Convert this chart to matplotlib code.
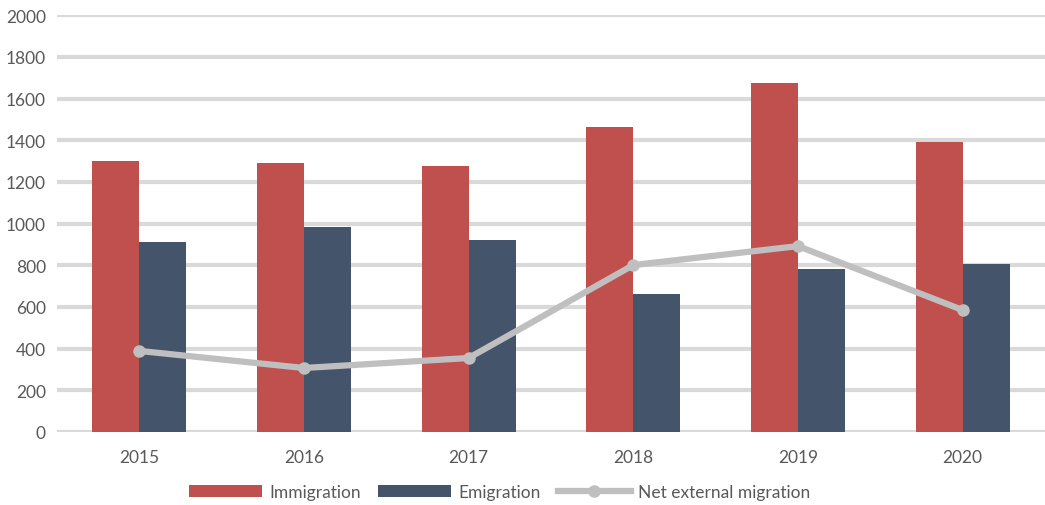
import numpy as np
import matplotlib
matplotlib.use("Agg")
import matplotlib.pyplot as plt

years = ["2015", "2016", "2017", "2018", "2019", "2020"]
immigration = [1300, 1290, 1276, 1463, 1674, 1391]
emigration = [911, 983, 921, 662, 782, 806]
net_migration = [389, 307, 355, 801, 892, 585]


def main():
    plt.rcParams["font.family"] = ["Lato", "DejaVu Sans"]
    fig = plt.figure(figsize=(10.45, 5.06), dpi=100)
    ax = fig.add_axes([0.0545, 0.1443, 0.9455, 0.8237])

    x = np.arange(len(years))
    w = 0.285
    b1 = ax.bar(x - w / 2, immigration, w, color="#c0504d", label="Immigration", zorder=2)
    b2 = ax.bar(x + w / 2, emigration, w, color="#44546a", label="Emigration", zorder=2)
    ln, = ax.plot(x, net_migration, color="#bfbfbf", lw=4.5, marker="o", ms=8,
                  label="Net external migration", zorder=3)

    ax.set_xlim(-0.5, len(years) - 0.5)
    ax.set_ylim(0, 2000)
    ax.set_yticks(range(0, 2001, 200))
    ax.set_xticks(x)
    ax.set_xticklabels(years)
    ax.grid(axis="y", color="#d9d9d9", lw=3, zorder=0)
    ax.set_axisbelow(True)
    for s in ax.spines.values():
        s.set_visible(False)
    ax.tick_params(length=0, labelsize=12.5, colors="#595959", pad=8)
    ax.tick_params(axis="x", pad=12)

    ax.legend(handles=[b1, b2, ln], loc="center", bbox_to_anchor=(0.448, -0.145),
              ncol=3, frameon=False, fontsize=12.5, labelcolor="#595959",
              handlelength=4.2, handletextpad=0.4, columnspacing=1.0)

    fig.savefig("out.png", dpi=100)


if __name__ == "__main__":
    main()
